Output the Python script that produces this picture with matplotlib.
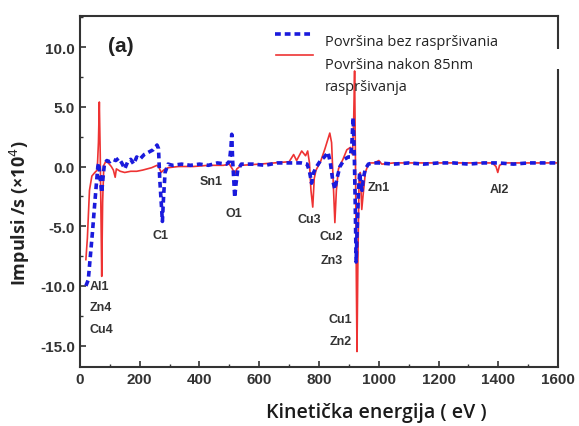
import numpy as np
import matplotlib
matplotlib.use('Agg')
import matplotlib.pyplot as plt
from matplotlib.ticker import MultipleLocator, FormatStrFormatter
from matplotlib.patches import Rectangle
from matplotlib.lines import Line2D

plt.rcParams['axes.unicode_minus'] = False

# ── spectra (energy in eV, counts x10^4) ──
e_raw = [20, 28, 35, 42, 50, 56, 60, 63, 66, 70, 73, 77, 82, 90, 100, 110, 120, 130,
         140, 150, 160, 170, 180, 190, 200, 215, 230, 245, 258, 263, 267, 272, 276,
         280, 285, 295, 310, 340, 370, 400, 430, 460, 490, 500, 505, 508, 511, 514,
         518, 522, 528, 540, 580, 620, 660, 700, 740, 760, 768, 775, 782, 792, 805,
         818, 830, 838, 846, 853, 860, 870, 885, 898, 905, 910, 914, 918, 921, 924,
         928, 932, 936, 940, 944, 948, 955, 965, 980, 1000, 1050, 1100, 1150, 1200,
         1250, 1300, 1350, 1400, 1450, 1500, 1550, 1600]
i_raw = [-10.0, -9.5, -7.5, -5.5, -3.0, -1.2, 0.0, 0.3, -0.5, -1.5, -2.2, -1.0, 0.2,
         0.5, 0.4, 0.6, 0.5, 0.7, 0.3, -0.2, 0.4, 0.6, 0.2, 0.8, 0.6, 1.0, 1.2, 1.4,
         1.8, 1.5, -1.0, -3.0, -4.6, -2.5, -0.5, 0.2, 0.1, 0.2, 0.1, 0.2, 0.1, 0.3,
         0.2, 0.4, 1.5, 2.7, 0.5, -0.8, -2.6, -1.5, -0.3, 0.2, 0.2, 0.1, 0.3, 0.3,
         0.3, 0.2, -0.4, -1.4, -0.5, 0.0, 0.5, 0.8, 1.2, 0.3, -1.2, -1.9, -1.0, 0.0,
         0.6, 0.8, 0.8, 2.0, 4.1, 1.0, -3.0, -8.0, -5.0, -2.0, -0.5, -1.5, -2.0, -1.0,
         -0.2, 0.2, 0.3, 0.3, 0.2, 0.3, 0.2, 0.3, 0.3, 0.2, 0.3, 0.3, 0.2, 0.3, 0.3,
         0.3]

e_sput = [20, 25, 32, 40, 50, 58, 62, 65, 68, 71, 73, 76, 80, 86, 95, 105, 112, 118,
          122, 135, 150, 170, 190, 210, 240, 258, 265, 272, 280, 295, 330, 380, 430,
          480, 500, 510, 518, 525, 540, 600, 650, 700, 715, 725, 742, 755, 762, 768,
          773, 779, 784, 790, 805, 820, 836, 842, 847, 853, 858, 865, 880, 893, 905,
          912, 916, 919, 922, 925, 927, 930, 934, 938, 943, 947, 951, 955, 962, 970,
          985, 1000, 1010, 1050, 1100, 1200, 1300, 1380, 1392, 1398, 1404, 1420, 1500,
          1600]
i_sput = [-7.8, -6.0, -2.0, -0.8, -0.5, -0.3, 2.0, 5.4, 1.0, -5.0, -9.2, -3.0, 0.1,
          0.4, 0.3, 0.0, -0.3, -0.9, -0.2, -0.4, -0.5, -0.4, -0.4, -0.3, -0.1, 0.1,
          -0.1, -0.5, -0.3, -0.1, 0.0, 0.0, 0.1, 0.1, 0.2, -0.2, -0.6, -0.2, 0.1, 0.2,
          0.3, 0.4, 1.0, 0.5, 1.3, 0.9, 1.3, 0.3, -2.0, -3.4, -1.0, -0.3, 0.4, 1.5,
          2.8, 2.0, -1.0, -4.7, -2.0, -0.2, 0.6, 1.4, 1.6, 1.0, 4.0, 8.0, 0.0, -10.0,
          -15.5, -8.0, -1.0, -0.5, -3.6, -2.5, -1.5, -0.5, 0.0, 0.3, 0.3, 0.5, 0.2,
          0.3, 0.3, 0.3, 0.3, 0.3, 0.0, -0.5, 0.1, 0.3, 0.3, 0.3]

# peak labels: (text, energy, intensity, ha)
peak_names = ['Al1', 'Zn4', 'Cu4', 'C1', 'Sn1', 'O1', 'Cu3', 'Cu2', 'Zn3',
              'Cu1', 'Zn2', 'Zn1', 'Al2']
peak_e = [33, 33, 33, 271, 440, 515, 768, 842, 842, 872, 872, 964, 1402]
peak_i = [-10.0, -11.8, -13.65, -5.7, -1.25, -3.9, -4.4, -5.85, -7.8,
          -12.8, -14.65, -1.7, -1.9]
peak_ha = ['left', 'left', 'left', 'center', 'center', 'center', 'center',
           'center', 'center', 'center', 'center', 'left', 'center']

RED = '#ee3333'
BLUE = '#1a1adc'
BLUE_DASH = (0, (1.6, 1.1))

fig = plt.figure(figsize=(5.79, 4.27), dpi=100)
ax = fig.add_axes([0.138, 0.138, 0.826, 0.822])

ax.plot(e_sput, i_sput, color=RED, lw=1.2, zorder=2)
ax.plot(e_raw, i_raw, color=BLUE, lw=2.6, ls=BLUE_DASH, zorder=3)

for name, x, y, ha in zip(peak_names, peak_e, peak_i, peak_ha):
    ax.text(x, y, name, ha=ha, va='center', fontsize=9, fontweight='bold',
            color='#333333', family='Liberation Sans', zorder=4)

ax.set_xlim(0, 1600)
ax.set_ylim(-16.8, 12.6)
ax.xaxis.set_major_locator(MultipleLocator(200))
ax.xaxis.set_minor_locator(MultipleLocator(100))
ax.yaxis.set_major_locator(MultipleLocator(5))
ax.yaxis.set_minor_locator(MultipleLocator(2.5))
ax.yaxis.set_major_formatter(FormatStrFormatter('%.1f'))
ax.tick_params(which='major', direction='in', length=4, width=1.2, color='#333333',
               labelsize=11, labelcolor='#333333')
ax.tick_params(which='minor', direction='in', length=2.5, width=1, color='#333333')
for lab in ax.get_xticklabels() + ax.get_yticklabels():
    lab.set_fontweight('bold')
    lab.set_family('Liberation Sans')
for sp in ax.spines.values():
    sp.set_linewidth(1.5)
    sp.set_color('#333333')

ax.set_xlabel('Kinetička energija ( eV )', fontsize=14, fontweight='semibold',
              family='Open Sans', color='#1a1a1a')
ax.xaxis.set_label_coords(0.62, -0.1)
ax.set_ylabel('Impulsi /s (×10$^4$)', fontsize=13, fontweight='bold',
              family='Open Sans', color='#222222')
ax.yaxis.set_label_coords(-0.1, 0.442)

ax.text(0.059, 0.915, '(a)', transform=ax.transAxes, fontsize=15,
        fontweight='bold', family='Liberation Sans', color='#222222',
        va='center')

# pasted-over legend box
fig.patches.append(Rectangle((0.94, 0.836), 0.055, 0.047, transform=fig.transFigure,
                             facecolor='white', edgecolor='none', zorder=5))
ax.add_line(Line2D([0.408, 0.485], [0.949, 0.949], transform=ax.transAxes,
                   color=BLUE, lw=2.6, ls=BLUE_DASH, zorder=6))
ax.add_line(Line2D([0.410, 0.487], [0.889, 0.889], transform=ax.transAxes,
                   color=RED, lw=1.2, zorder=6))
leg_texts = ['Površina bez raspršivania', 'Površina nakon 85nm', 'raspršivanja']
leg_y = [0.929, 0.863, 0.798]
for t, y in zip(leg_texts, leg_y):
    ax.text(0.513, y, t, transform=ax.transAxes, fontsize=10.5, family='Open Sans',
            color='#222222', va='center', zorder=6)

fig.savefig('out.png', dpi=100, facecolor='white')
